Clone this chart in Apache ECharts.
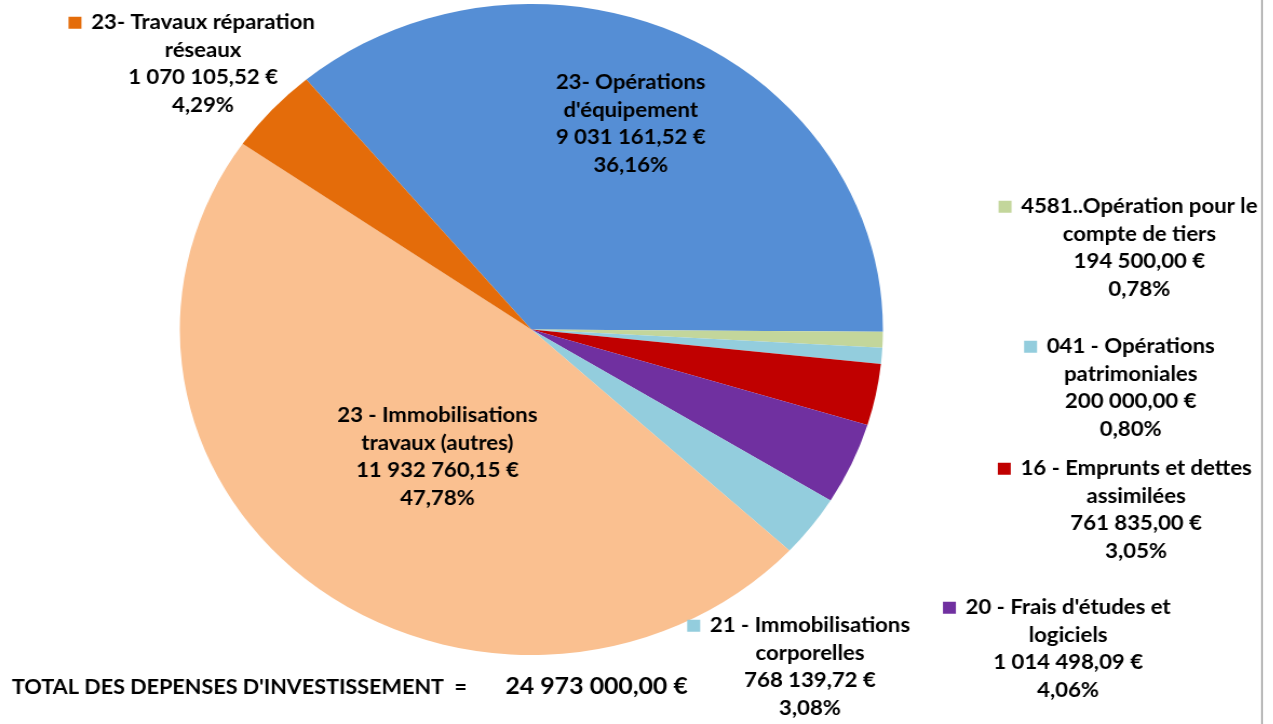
<!DOCTYPE html>
<html><head><meta charset="utf-8">
<script src="https://cdn.jsdelivr.net/npm/echarts@6/dist/echarts.min.js"></script>
<style>
html,body{margin:0;padding:0;overflow:hidden;background:#fff;width:1273px;height:724px}
#c{width:1179px;height:724px;transform:scaleX(1.08);transform-origin:0 0}
</style></head><body><div id="c"></div>
<script>
// ---- data ----
const categories = [
  "23- Opérations\nd'équipement",
  "4581..Opération pour le\ncompte de tiers",
  "041 - Opérations\npatrimoniales",
  "16 - Emprunts et dettes\nassimilées",
  "20 - Frais d'études et\nlogiciels",
  "21 - Immobilisations\ncorporelles",
  "23 - Immobilisations\ntravaux (autres)",
  "23- Travaux réparation\nréseaux"
];
const values = [9031161.52, 194500.00, 200000.00, 761835.00, 1014498.09, 768139.72, 11932760.15, 1070105.52];
const colors = ['#558ED5', '#C3D69B', '#93CDDD', '#C00000', '#7030A0', '#93CDDD', '#FAC090', '#E46C0A'];
const withMarker = [false, true, true, true, true, true, false, true];
const totalLabel = "TOTAL DES DEPENSES D'INVESTISSEMENT  =";

// ---- layout (unscaled coords) ----
const labelPos = [[584, 124], [1055, 248], [1047, 388], [1052, 510], [989, 649], [750, 667], [405, 457], [188, 64]];

function money(v) {
  const s = v.toFixed(2).split('.');
  return s[0].replace(/\B(?=(\d{3})+(?!\d))/g, ' ') + ',' + s[1] + ' €';
}
const total = values.reduce((a, b) => a + b, 0);

const FONT = 'Lato';
const FS = 20.5;
const LH = 27.5;

const data = categories.map((name, i) => {
  const item = { name: name, value: values[i], itemStyle: { color: colors[i] } };
  if (withMarker[i]) {
    item.label = {
      rich: {
        mk: { width: 12, height: 12, backgroundColor: colors[i], align: 'center', lineHeight: LH },
        g: { width: 9, lineHeight: LH },
        sp: { width: 12, lineHeight: LH },
        t: { fontFamily: FONT, fontWeight: 'bold', fontSize: FS, color: '#000', lineHeight: LH, align: 'center' }
      }
    };
  }
  return item;
});

const chart = echarts.init(document.getElementById('c'), null, { renderer: 'canvas' });
chart.setOption({
  animation: false,
  backgroundColor: '#fff',
  graphic: [
    { type: 'line', shape: { x1: 1168.5, y1: 0, x2: 1168.5, y2: 724 }, style: { stroke: '#8c8c8c', lineWidth: 1.2 } },
    { type: 'text', x: 11, y: 688, style: { text: totalLabel, font: 'bold 20px ' + FONT, fill: '#000', verticalAlign: 'middle' } },
    { type: 'text', x: 468, y: 687, style: { text: money(total), font: 'bold 23px ' + FONT, fill: '#000', verticalAlign: 'middle' } }
  ],
  series: [{
    type: 'pie',
    center: [492, 329.5],
    radius: [0, 325.5],
    startAngle: 129.8,
    clockwise: true,
    avoidLabelOverlap: false,
    itemStyle: { borderWidth: 0 },
    labelLine: { show: false },
    emphasis: { disabled: true },
    label: {
      show: true,
      position: 'inside',
      fontFamily: FONT,
      fontWeight: 'bold',
      fontSize: FS,
      color: '#000',
      lineHeight: LH,
      align: 'center',
      formatter: function (p) {
        const lines = p.name.split('\n');
        const pct = p.percent.toFixed(2).replace('.', ',') + '%';
        const val = money(p.value);
        if (withMarker[p.dataIndex]) {
          return '{mk|}{g|}{t|' + lines[0] + '}{g|}{sp|}\n' +
            lines.slice(1).map(l => '{t|' + l + '}').join('\n') +
            '\n{t|' + val + '}\n{t|' + pct + '}';
        }
        return lines.join('\n') + '\n' + val + '\n' + pct;
      }
    },
    labelLayout: function (params) {
      const p = labelPos[params.dataIndex];
      return { x: p[0], y: p[1], align: 'center', verticalAlign: 'middle' };
    },
    data: data
  }]
});
</script></body></html>
